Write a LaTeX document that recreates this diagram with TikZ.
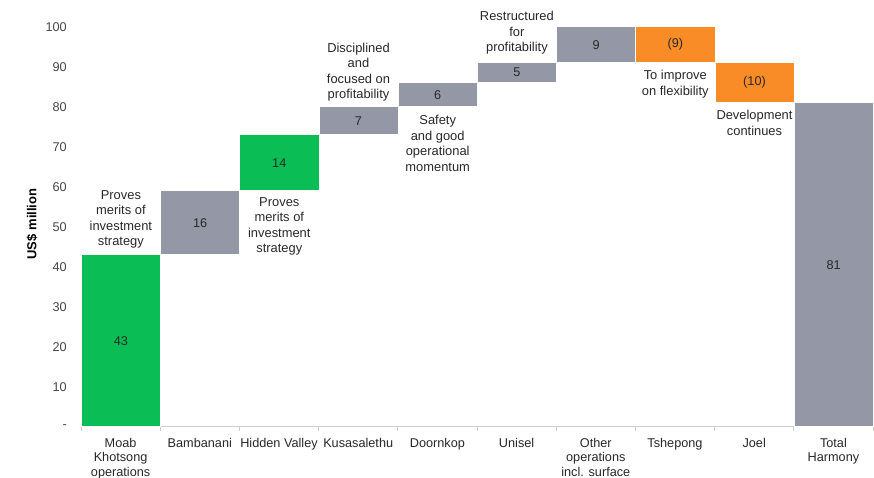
\documentclass[tikz,border=0pt]{standalone}
\usepackage{fontspec}
\setmainfont{Liberation Sans}
\usetikzlibrary{positioning}
\definecolor{barGray}{RGB}{148,152,166}
\definecolor{barGreen}{RGB}{10,190,85}
\definecolor{barOrange}{RGB}{250,140,40}
\definecolor{axisGray}{RGB}{205,205,205}
\definecolor{textGray}{RGB}{40,40,40}
\definecolor{tickGray}{RGB}{70,70,70}
\begin{document}
\begin{tikzpicture}[x=1pt,y=1pt,font=\fontsize{12.7}{15.5}\selectfont,text=textGray,
	bar/.style={draw=white,line width=0.6pt,inner sep=0pt,anchor=south west,minimum width=\w},
	note/.style={align=center,inner sep=0pt,font=\fontsize{12.9}{15.5}\selectfont},
	catlabel/.style={align=center,inner sep=0pt,anchor=north,font=\fontsize{12.7}{14.5}\selectfont}]
	\def\w{79.2} \def\xo{81} \def\u{4} % column width, origin, px per unit
	\useasboundingbox (0,-51) rectangle (874,427);
	% axis and ticks
	\draw[axisGray,line width=1pt] (\xo,0)--(873,0);
	\foreach \i in {0,...,10} \draw[axisGray,line width=0.8pt] (\xo+\i*\w,0)--++(0,-4);
	\foreach \v in {10,20,...,100} \node[anchor=east,inner sep=0pt,text=tickGray] (t\v) at (67,\v*\u) {\v};
	\node[anchor=east,inner sep=0pt,text=tickGray] (t0) at (67,0) {-};
	\node[rotate=90,font=\fontsize{13}{15}\selectfont\bfseries,text=black] (ylab) at (32,203) {US\$ million};
	% bars: index/low/high/colour/value
	\foreach \i/\lo/\hi/\c/\l in {0/0/43/barGreen/43, 1/43/59/barGray/16, 2/59/73/barGreen/14,
		3/73/80/barGray/7, 4/80/86/barGray/6, 5/86/91/barGray/5, 6/91/100/barGray/9,
		7/91/100/barOrange/{(9)}, 8/81/91/barOrange/{(10)}, 9/0/81/barGray/81}
		\node[bar,fill=\c,minimum height={(\hi-\lo)*\u}] (bar\i) at (\xo+\i*\w,\lo*\u) {\l};
	% categories
	\foreach \i/\n in {0/{Moab\\Khotsong\\operations}, 1/Bambanani, 2/Hidden Valley, 3/Kusasalethu,
		4/Doornkop, 5/Unisel, 6/{Other\\operations\\incl. surface}, 7/Tshepong, 8/Joel, 9/{Total\\Harmony}}
		\node[catlabel] (cat\i) at (\xo+\i*\w+\w/2,-11) {\n};
	% notes
	\node[note,above=6pt of bar0] (n0) {Proves\\merits of\\investment\\strategy};
	\node[note,below=6pt of bar2] (n2) {Proves\\merits of\\investment\\strategy};
	\node[note,above=5pt of bar3] (n3) {Disciplined\\and\\focused on\\profitability};
	\node[note,below=8pt of bar4] (n4) {Safety\\and good\\operational\\momentum};
	\node[note,above=8pt of bar5] (n5) {Restructured\\for\\profitability};
	\node[note,below=7pt of bar7] (n7) {To improve\\on flexibility};
	\node[note,below=7pt of bar8] (n8) {Development\\continues};
\end{tikzpicture}
\end{document}
